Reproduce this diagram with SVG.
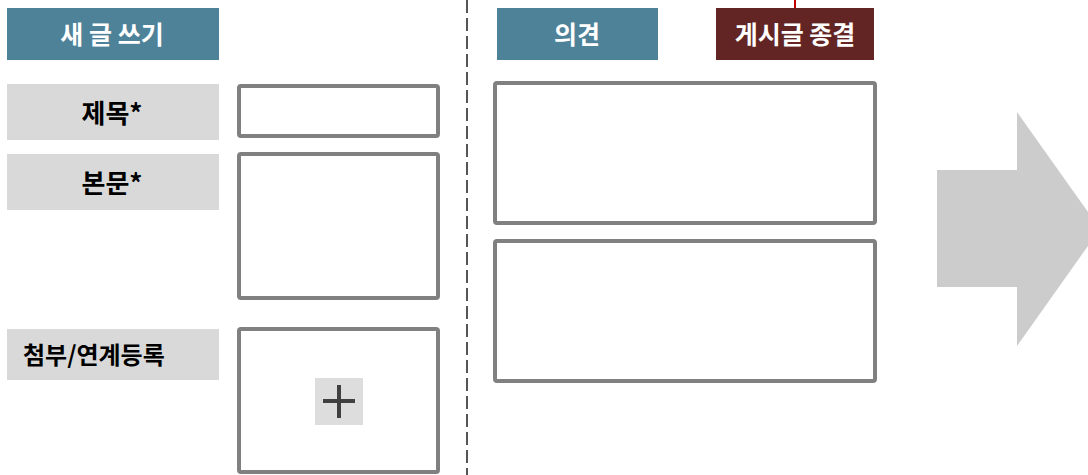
<svg xmlns="http://www.w3.org/2000/svg" width="1088" height="475" viewBox="0 0 1088 475">
<style>
.hdr{fill:#4E8299}
.lbl{fill:#D9D9D9}
.inp{fill:#FFFFFF;stroke:#808080;stroke-width:4}
.ht{font-family:"Noto Sans CJK KR","Noto Sans",sans-serif;font-weight:bold;font-size:25px;fill:#FFFFFF;text-anchor:middle}
.lt{font-family:"Noto Sans CJK KR","Noto Sans",sans-serif;font-weight:bold;font-size:26px;fill:#000000;text-anchor:middle}
</style>
<rect width="1088" height="475" fill="#FFFFFF"/>
<g id="connectors">
<line x1="467" y1="0" x2="467" y2="475" stroke="#555555" stroke-width="2" stroke-dasharray="13 5"/>
<line x1="795" y1="0" x2="795" y2="8" stroke="#C00000" stroke-width="2"/>
</g>
<g id="new-post"><rect class="hdr" x="7" y="8" width="212" height="52"/><text class="ht" x="112" y="44">새 글 쓰기</text></g>
<g id="title-label"><rect class="lbl" x="7" y="84" width="212" height="56"/><text class="lt" x="112" y="123">제목*</text></g>
<g id="title-input"><rect class="inp" x="239" y="86" width="199" height="50" rx="2"/></g>
<g id="body-label"><rect class="lbl" x="7" y="154" width="212" height="56"/><text class="lt" x="112" y="193">본문*</text></g>
<g id="body-input"><rect class="inp" x="239" y="154" width="199" height="144" rx="2"/></g>
<g id="attach-label"><rect class="lbl" x="7" y="329" width="212" height="51"/><text class="lt" x="23" y="364" style="text-anchor:start;font-size:24px">첨부/연계등록</text></g>
<g id="attach-input"><rect class="inp" x="239" y="329" width="199" height="143" rx="2"/><rect x="315" y="378" width="48" height="47" fill="#DDDDDD"/><path d="M323 401H355M339 385V418" stroke="#404040" stroke-width="4" fill="none"/></g>
<g id="opinion"><rect class="hdr" x="497" y="8" width="161" height="52"/><text class="ht" x="577" y="44">의견</text></g>
<g id="close-post"><rect x="716" y="8" width="158" height="52" fill="#632523"/><text class="ht" x="795" y="44">게시글 종결</text></g>
<g id="opinion-box-1"><rect class="inp" x="495" y="83" width="380" height="140" rx="2"/></g>
<g id="opinion-box-2"><rect class="inp" x="495" y="241" width="380" height="140" rx="2"/></g>
<g id="arrow"><polygon points="937,170 1017,170 1017,112 1100,229 1017,346 1017,287 937,287" fill="#CCCCCC"/></g>
</svg>
